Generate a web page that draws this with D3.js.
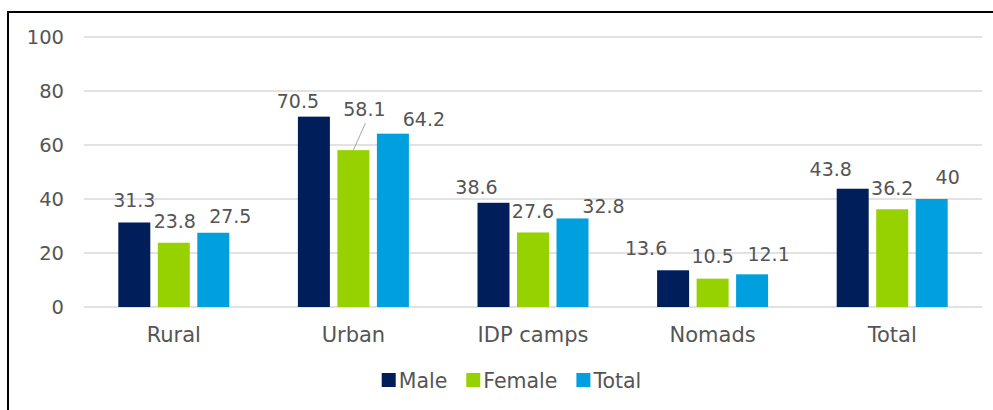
<!DOCTYPE html>
<html lang="en">
<head>
<meta charset="utf-8">
<title>Grouped bars</title>
<script src="https://d3js.org/d3.v7.min.js"></script>
<style>
  body { margin: 0; background: #fff; }
  text { font-family: Verdana, "DejaVu Sans", sans-serif; fill: #555; }
</style>
</head>
<body>
<div id="canvas"></div>
<script>
const categories = ["Rural", "Urban", "IDP camps", "Nomads", "Total"]
const seriesNames = ["Male", "Female", "Total"]
const male   = [31.3, 70.5, 38.6, 13.6, 43.8]
const female = [23.8, 58.1, 27.6, 10.5, 36.2]
const total  = [27.5, 64.2, 32.8, 12.1, 40]
const yTicks = [0, 20, 40, 60, 80, 100]

// label nudges as in the original: [dx from bar centre, gap above bar top]
const labelNudge = [
  [[0, 15.5], [1, 14.7], [17, 10]],
  [[-16, 8.6], [11, 34], [31, 7.7]],
  [[-17, 8.8], [0, 14.5], [31, 5.4]],
  [[-27, 15], [0, 15.6], [16.5, 13.6]],
  [[-22, 12.7], [0, 14], [16, 15]]
]

const colors = ["#001E5A", "#96D200", "#00A0DF"]
const width = 993
const height = 410

const svg = d3.select("#canvas")
  .append("svg")
    .attr("width", width)
    .attr("height", height)

// frame (runs past the right and bottom edges)
svg.append("rect")
  .attr("x", 8).attr("y", 12)
  .attr("width", 1000).attr("height", 420)
  .attr("fill", "none")
  .attr("stroke", "#000")
  .attr("stroke-width", 2)

const y = d3.scaleLinear().domain([0, 100]).range([307, 37])
const x0 = d3.scaleBand().domain(categories).range([84, 982])
const x1 = d3.scaleBand().domain(seriesNames).range([0, 111]).paddingInner(0.19)

// grid
svg.append("g")
  .selectAll("line")
  .data(yTicks)
  .join("line")
    .attr("x1", 84).attr("x2", 982)
    .attr("y1", d => y(d)).attr("y2", d => y(d))
    .attr("stroke", "#d9d9d9")
    .attr("stroke-width", 1.5)

svg.append("g")
  .selectAll("text")
  .data(yTicks)
  .join("text")
    .attr("x", 64)
    .attr("y", d => y(d) + 7)
    .attr("text-anchor", "end")
    .style("font-size", "19.5px")
    .text(d => d)

const rows = categories.map((c, i) => ({
  cat: c, i: i,
  vals: [male[i], female[i], total[i]]
}))

const groupX = c => x0(c) + x0.bandwidth() / 2 - 55.5

const groups = svg.append("g")
  .selectAll("g")
  .data(rows)
  .join("g")
    .attr("transform", d => `translate(${groupX(d.cat)},0)`)

groups.selectAll("rect")
  .data(d => d.vals.map((v, j) => ({ v: v, j: j, i: d.i })))
  .join("rect")
    .attr("x", d => x1(seriesNames[d.j]))
    .attr("y", d => y(d.v))
    .attr("width", x1.bandwidth())
    .attr("height", d => y(0) - y(d.v))
    .attr("fill", d => colors[d.j])

groups.selectAll("text.val")
  .data(d => d.vals.map((v, j) => ({ v: v, j: j, i: d.i })))
  .join("text")
    .attr("class", "val")
    .attr("x", d => x1(seriesNames[d.j]) + x1.bandwidth() / 2 + labelNudge[d.i][d.j][0])
    .attr("y", d => y(d.v) - labelNudge[d.i][d.j][1])
    .attr("text-anchor", "middle")
    .style("font-size", "19px")
    .text(d => d.v)

// leader line for the lifted Urban/Female label
groups.filter(d => d.cat === "Urban")
  .append("line")
    .attr("x1", x1("Female") + x1.bandwidth() / 2 + labelNudge[1][1][0] + 1)
    .attr("y1", y(female[1]) - labelNudge[1][1][1] + 7)
    .attr("x2", x1("Female") + x1.bandwidth() / 2)
    .attr("y2", y(female[1]))
    .attr("stroke", "#a6a6a6")
    .attr("stroke-width", 1)

// category labels
svg.append("g")
  .selectAll("text")
  .data(categories)
  .join("text")
    .attr("x", d => x0(d) + x0.bandwidth() / 2)
    .attr("y", 342)
    .attr("text-anchor", "middle")
    .style("font-size", "21px")
    .text(d => d)

// legend
const legend = svg.append("g")
const items = legend.selectAll("g")
  .data(seriesNames)
  .join("g")
items.append("rect")
  .attr("width", 14).attr("height", 14)
  .attr("y", 373)
  .attr("fill", (d, j) => colors[j])
items.append("text")
  .attr("x", 17)
  .attr("y", 388)
  .style("font-size", "20.5px")
  .text(d => d)

let widths = []
items.select("text").each(function() { widths.push(17 + this.getComputedTextLength()) })
const gap = 19
const totalW = d3.sum(widths) + gap * (widths.length - 1)
let cx = 511.5 - totalW / 2
items.attr("transform", (d, j) => {
  const t = `translate(${cx},0)`
  cx += widths[j] + gap
  return t
})
</script>
</body>
</html>
